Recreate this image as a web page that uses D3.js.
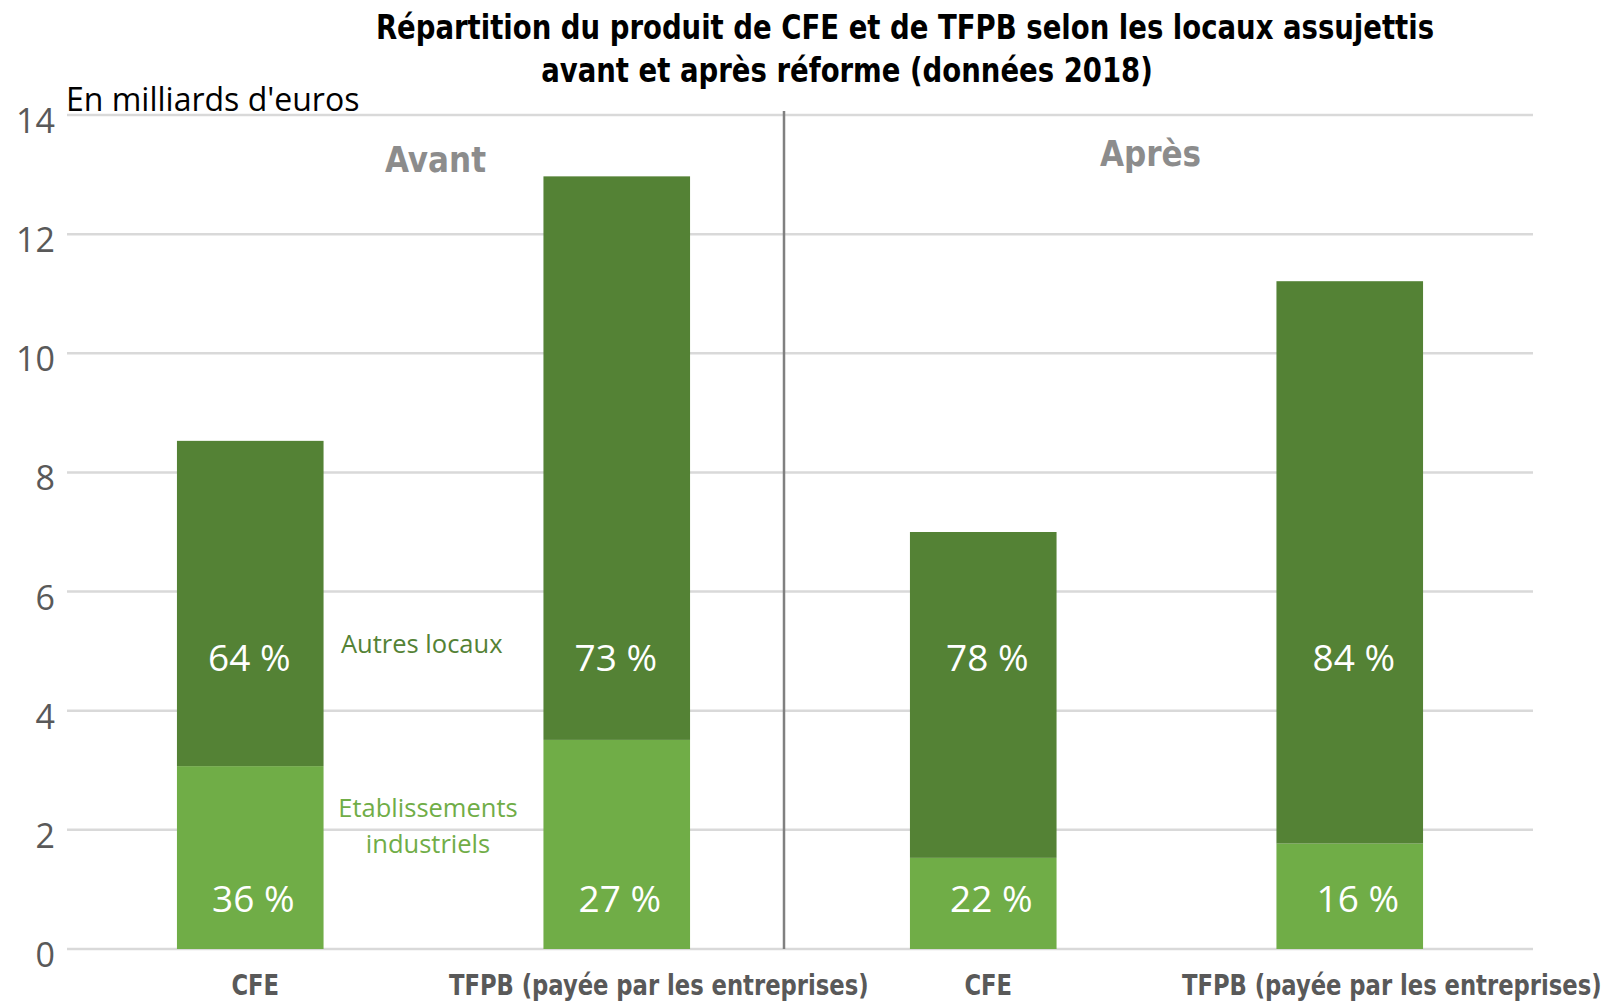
<!DOCTYPE html>
<html>
<head>
<meta charset="utf-8">
<script src="https://cdn.jsdelivr.net/npm/d3@7"></script>
<style>
  body { margin: 0; background: #fff; }
  text { font-family: "Open Sans", sans-serif; }
  .cond { font-family: "DejaVu Sans Condensed", "DejaVu Sans", sans-serif; font-weight: bold; }
</style>
</head>
<body>
<div id="chart"></div>
<script>
// data (milliards d'euros, 2018)
const categories = ["CFE", "TFPB (payée par les entreprises)", "CFE ", "TFPB (payée par les entreprises) "];
const industriels = [3.07, 3.51, 1.53, 1.77];
const autres = [5.46, 9.46, 5.47, 9.44];
const pctIndustriels = ["36 %", "27 %", "22 %", "16 %"];
const pctAutres = ["64 %", "73 %", "78 %", "84 %"];
const yTicks = [0, 2, 4, 6, 8, 10, 12, 14];

const width = 1609, height = 1001;
const dark = "#548235", light = "#70ad47";

const svg = d3.select("#chart").append("svg")
    .attr("width", width)
    .attr("height", height);

const x = d3.scaleBand()
    .domain(categories)
    .range([67, 1533])
    .paddingInner(0.6)
    .paddingOuter(0.3);

const y = d3.scaleLinear()
    .domain([0, 14])
    .range([949, 115]);

// condensed bold text, squeezed horizontally
function condText(cx, cy, str, size, fill, k) {
  svg.append("g")
      .attr("transform", `translate(${cx},${cy}) scale(${k},1)`)
    .append("text")
      .attr("class", "cond")
      .attr("text-anchor", "middle")
      .attr("font-size", size)
      .attr("fill", fill)
      .text(str);
}

// gridlines + y labels
svg.selectAll(".grid")
    .data(yTicks)
    .join("line")
    .attr("x1", 67).attr("x2", 1533)
    .attr("y1", d => y(d)).attr("y2", d => y(d))
    .attr("stroke", "#d9d9d9")
    .attr("stroke-width", 2.5);

svg.selectAll(".ytick")
    .data(yTicks)
    .join("text")
    .attr("x", 55)
    .attr("y", d => y(d) + 18)
    .attr("text-anchor", "end")
    .attr("font-size", 34)
    .attr("fill", "#595959")
    .text(d => d);

// stacked bars
const stack = categories.map((c, i) => ({ cat: c, ind: industriels[i], aut: autres[i], i }));

svg.selectAll(".ind")
    .data(stack)
    .join("rect")
    .attr("x", d => x(d.cat))
    .attr("width", x.bandwidth())
    .attr("y", d => y(d.ind))
    .attr("height", d => y(0) - y(d.ind))
    .attr("fill", light);

svg.selectAll(".aut")
    .data(stack)
    .join("rect")
    .attr("x", d => x(d.cat))
    .attr("width", x.bandwidth())
    .attr("y", d => y(d.ind + d.aut))
    .attr("height", d => y(d.ind) - y(d.ind + d.aut))
    .attr("fill", dark);

// percentage labels
svg.selectAll(".pa")
    .data(stack)
    .join("text")
    .attr("x", d => x(d.cat) + x.bandwidth() / 2 - 1 + (d.i >= 2 ? 5 : 0))
    .attr("y", y(4.9) + 14)
    .attr("text-anchor", "middle")
    .attr("font-size", 37)
    .attr("fill", "#fff")
    .text(d => pctAutres[d.i]);

svg.selectAll(".pi")
    .data(stack)
    .join("text")
    .attr("x", d => x(d.cat) + x.bandwidth() / 2 + 3 + (d.i >= 2 ? 5 : 0))
    .attr("y", y(0.85) + 14)
    .attr("text-anchor", "middle")
    .attr("font-size", 37)
    .attr("fill", "#fff")
    .text(d => pctIndustriels[d.i]);

// x labels
categories.forEach(c => {
  condText(x(c) + x.bandwidth() / 2 + (c.trim().length > 3 ? 42 : 5), 995,
           c.trim(), 29, "#595959", 0.87);
});

// divider between avant / après
svg.append("line")
    .attr("x1", 784).attr("x2", 784)
    .attr("y1", y(14) - 4).attr("y2", y(0))
    .attr("stroke", "#808080")
    .attr("stroke-width", 2.5);

// group titles
condText((x(categories[0]) + x(categories[1]) + x.bandwidth()) / 2 + 2, 172,
         "Avant", 36, "#8c8c8c", 0.96);
condText((x(categories[2]) + x(categories[3]) + x.bandwidth()) / 2 - 16, 166,
         "Après", 36, "#8c8c8c", 0.96);

// series annotations
svg.append("text")
    .attr("x", 341).attr("y", 653)
    .attr("font-size", 25.5)
    .attr("fill", dark)
    .text("Autres locaux");

svg.append("text")
    .attr("x", 428).attr("y", 817)
    .attr("text-anchor", "middle")
    .attr("font-size", 25.5)
    .attr("fill", light)
    .text("Etablissements");

svg.append("text")
    .attr("x", 428).attr("y", 853)
    .attr("text-anchor", "middle")
    .attr("font-size", 25.5)
    .attr("fill", light)
    .text("industriels");

// title and unit
condText(905, 39, "Répartition du produit de CFE et de TFPB selon les locaux assujettis", 34, "#000", 0.9);
condText(847, 82, "avant et après réforme (données 2018)", 34, "#000", 0.9);

svg.append("text")
    .attr("x", 66).attr("y", 111)
    .attr("font-size", 32)
    .attr("fill", "#000")
    .text("En milliards d'euros");
</script>
</body>
</html>
